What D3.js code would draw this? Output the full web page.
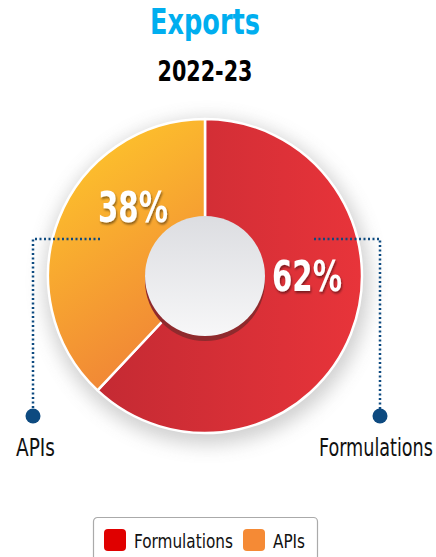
<!DOCTYPE html>
<html>
<head>
<meta charset="utf-8">
<style type="text/css">
    body { margin: 0; background: #ffffff; }
    text { font-family: "Liberation Sans Narrow", "DejaVu Sans Condensed", "Roboto", sans-serif; font-stretch: condensed; }
</style>
</head>
<body>
<svg width="436" height="557"></svg>
<script type="text/javascript" src="https://cdn.jsdelivr.net/npm/d3@7"></script>
<script type="text/javascript">

    // data
    let categories = ["Formulations", "APIs"];
    let shares = [62, 38];
    let sliceColors = ["#e00000", "#f58a35"];

    var svg = d3.select("svg"),
        cx = 205,
        cy = 276,
        outerRadius = 157,
        innerRadius = 60;

    var defs = svg.append("defs");

    // gradients for the two slices
    var gRed = defs.append("linearGradient").attr("id", "gradRed")
        .attr("x1", "0%").attr("y1", "0%").attr("x2", "100%").attr("y2", "0%");
    gRed.append("stop").attr("offset", "0%").attr("stop-color", "#c42a33");
    gRed.append("stop").attr("offset", "100%").attr("stop-color", "#e8343a");

    var gOrange = defs.append("linearGradient").attr("id", "gradOrange")
        .attr("x1", "30%").attr("y1", "0%").attr("x2", "70%").attr("y2", "100%");
    gOrange.append("stop").attr("offset", "0%").attr("stop-color", "#fec62b");
    gOrange.append("stop").attr("offset", "100%").attr("stop-color", "#ef7f37");

    var gHole = defs.append("linearGradient").attr("id", "gradHole")
        .attr("x1", "0%").attr("y1", "0%").attr("x2", "0%").attr("y2", "100%");
    gHole.append("stop").attr("offset", "0%").attr("stop-color", "#dcdde1");
    gHole.append("stop").attr("offset", "100%").attr("stop-color", "#f7f7f8");

    var blur = defs.append("filter").attr("id", "softShadow")
        .attr("x", "-30%").attr("y", "-30%").attr("width", "160%").attr("height", "160%");
    blur.append("feGaussianBlur").attr("stdDeviation", 9);

    var txtShadow = defs.append("filter").attr("id", "txtShadow")
        .attr("x", "-20%").attr("y", "-20%").attr("width", "140%").attr("height", "140%");
    txtShadow.append("feDropShadow").attr("dx", 1).attr("dy", 2)
        .attr("stdDeviation", 1.2).attr("flood-color", "#000").attr("flood-opacity", 0.45);

    // narrow text helper: squeeze glyphs to the width seen in the picture
    function narrow(sel, w) {
        return sel.attr("textLength", w).attr("lengthAdjust", "spacingAndGlyphs");
    }

    // squeeze by scaling instead (text placed at x,y via transform)
    function squeeze(parent, x, y, str, size, w, anchor) {
        var t = parent.append("text")
            .attr("font-size", size)
            .attr("text-anchor", anchor || "start")
            .attr("fill", "#111")
            .text(str);
        var natural = t.node().getComputedTextLength();
        t.attr("transform", "translate(" + x + "," + y + ") scale(" + (w / natural) + ",1)");
        return t;
    }

    // title
    narrow(svg.append("text")
        .attr("x", 205).attr("y", 34)
        .attr("text-anchor", "middle")
        .attr("font-size", 36).attr("font-weight", "bold")
        .attr("fill", "#00aeef")
        .text("Exports"), 110);

    narrow(svg.append("text")
        .attr("x", 205).attr("y", 81)
        .attr("text-anchor", "middle")
        .attr("font-size", 28).attr("font-weight", "bold")
        .attr("fill", "#000")
        .text("2022-23"), 95);

    var g = svg.append("g").attr("transform", "translate(" + cx + "," + cy + ")");

    // soft shadow behind the pie
    g.append("circle")
        .attr("cx", 2).attr("cy", 6).attr("r", outerRadius + 6)
        .attr("fill", "#9a9a9a").attr("opacity", 0.45)
        .attr("filter", "url(#softShadow)");

    var pie = d3.pie().sort(null).value(function(d) { return d; });
    var arc = d3.arc().innerRadius(0).outerRadius(outerRadius);
    var arcs = pie(shares);

    g.selectAll("path.slice")
        .data(arcs)
        .enter()
        .append("path")
        .attr("class", "slice")
        .attr("d", arc)
        .attr("fill", function(d, i) { return i == 0 ? "url(#gradRed)" : "url(#gradOrange)"; })
        .attr("stroke", "#ffffff")
        .attr("stroke-width", 2.5)
        .attr("stroke-linejoin", "round");

    // center hole with its shadow
    g.append("circle")
        .attr("cx", 0).attr("cy", 5).attr("r", innerRadius)
        .attr("fill", "#8f2a2d");
    g.append("circle")
        .attr("r", innerRadius)
        .attr("fill", "url(#gradHole)");

    // percentage labels
    var labelPos = [[307, 291], [133, 222]];
    var pct = svg.selectAll("text.pct")
        .data(arcs)
        .enter()
        .append("text")
        .attr("class", "pct")
        .attr("x", function(d, i) { return labelPos[i][0]; })
        .attr("y", function(d, i) { return labelPos[i][1]; })
        .attr("text-anchor", "middle")
        .attr("font-size", 42).attr("font-weight", "bold")
        .attr("fill", "#ffffff")
        .attr("filter", "url(#txtShadow)")
        .text(function(d) { return d.value + "%"; });
    narrow(pct, 70);

    // leader lines
    var leaders = [
        { name: categories[0], pts: [[314, 239], [380, 239], [380, 416]], tx: 319, w: 114 },
        { name: categories[1], pts: [[100, 239], [33, 239], [33, 416]], tx: 16, w: 39 }
    ];
    var line = d3.line();
    leaders.forEach(function(l) {
        svg.append("path")
            .attr("d", line(l.pts))
            .attr("fill", "none")
            .attr("stroke", "#0d4a80")
            .attr("stroke-width", 2.5)
            .attr("stroke-dasharray", "2,2.5");
        svg.append("circle")
            .attr("cx", l.pts[2][0]).attr("cy", l.pts[2][1])
            .attr("r", 7.5)
            .attr("fill", "#0d4a80");
        squeeze(svg, l.tx, 456, l.name, 25, l.w, "start");
    });

    // legend
    var legend = svg.append("g").attr("transform", "translate(93,517)");
    legend.append("rect")
        .attr("x", 0.5).attr("y", 0.5)
        .attr("width", 224).attr("height", 50)
        .attr("rx", 4)
        .attr("fill", "#fff")
        .attr("stroke", "#aaa").attr("stroke-width", 1.2);
    var legendX = [11, 150];
    var legendW = [99, 32];
    categories.forEach(function(c, i) {
        legend.append("rect")
            .attr("x", legendX[i]).attr("y", 12)
            .attr("width", 22).attr("height", 22)
            .attr("rx", 4)
            .attr("fill", sliceColors[i]);
        narrow(legend.append("text")
            .attr("x", legendX[i] + 30).attr("y", 31)
            .attr("font-size", 20)
            .attr("fill", "#111")
            .text(c), legendW[i]);
    });

</script>
</body>
</html>
